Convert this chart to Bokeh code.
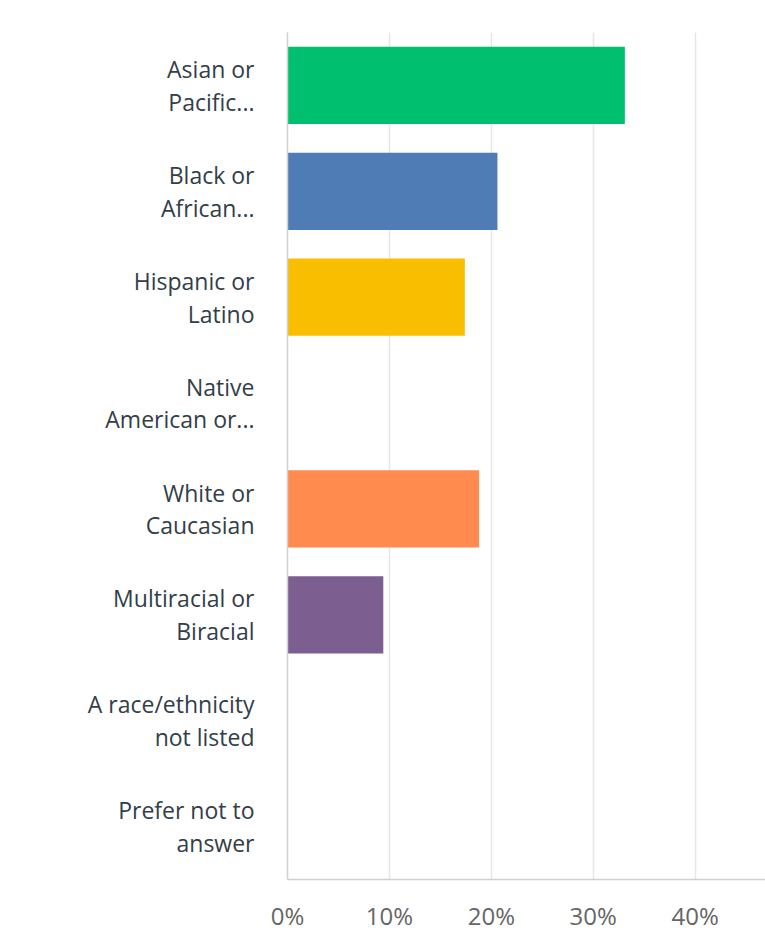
from bokeh.plotting import figure
from bokeh.models import Range1d, FixedTicker, CustomJSTickFormatter
from bokeh.embed import file_html
from bokeh.resources import INLINE

categories = [
    "Asian or\nPacific...",
    "Black or\nAfrican...",
    "Hispanic or\nLatino",
    "Native\nAmerican or...",
    "White or\nCaucasian",
    "Multiracial or\nBiracial",
    "A race/ethnicity\nnot listed",
    "Prefer not to\nanswer",
]
values = [33.1, 20.6, 17.4, 0.0, 18.8, 9.4, 0.0, 0.0]
colors = ["#00bf6f", "#507cb6", "#f9be00", "#6bc8cd", "#ff8b4f", "#7d5e90", "#d25f90", "#b1b1b1"]
ticks = [0, 10, 20, 30, 40]

p = figure(
    width=765, height=943,
    y_range=list(reversed(categories)),
    x_range=Range1d(0, 46.9),
    output_backend="svg", toolbar_location=None,
    min_border_left=287, min_border_right=0, min_border_top=32, min_border_bottom=64,
)
p.hbar(y=categories, right=values, left=0, height=0.73, color=colors, line_color=None)

p.outline_line_color = None
p.ygrid.grid_line_color = None
p.xgrid.grid_line_color = "#e6e6e6"
p.xgrid.grid_line_width = 1.5

p.xaxis.ticker = FixedTicker(ticks=ticks)
p.xaxis.formatter = CustomJSTickFormatter(code="return tick + '%';")
p.xaxis.axis_line_color = "#d0d0d0"
p.xaxis.axis_line_width = 1.5
p.xaxis.major_tick_line_color = None
p.xaxis.minor_tick_line_color = None
p.xaxis.major_tick_out = 0
p.xaxis.major_label_text_font = "Open Sans"
p.xaxis.major_label_text_font_size = "24px"
p.xaxis.major_label_text_color = "#666666"
p.xaxis.major_label_standoff = 19

p.yaxis.axis_line_color = "#d0d0d0"
p.yaxis.axis_line_width = 1.5
p.yaxis.major_tick_line_color = None
p.yaxis.major_tick_out = 0
p.yaxis.major_label_text_font = "Open Sans"
p.yaxis.major_label_text_font_size = "23px"
p.yaxis.major_label_text_color = "#333e48"
p.yaxis.major_label_text_line_height = 1.02
p.yaxis.major_label_standoff = 33

open("out.html", "w").write(file_html(p, INLINE))
